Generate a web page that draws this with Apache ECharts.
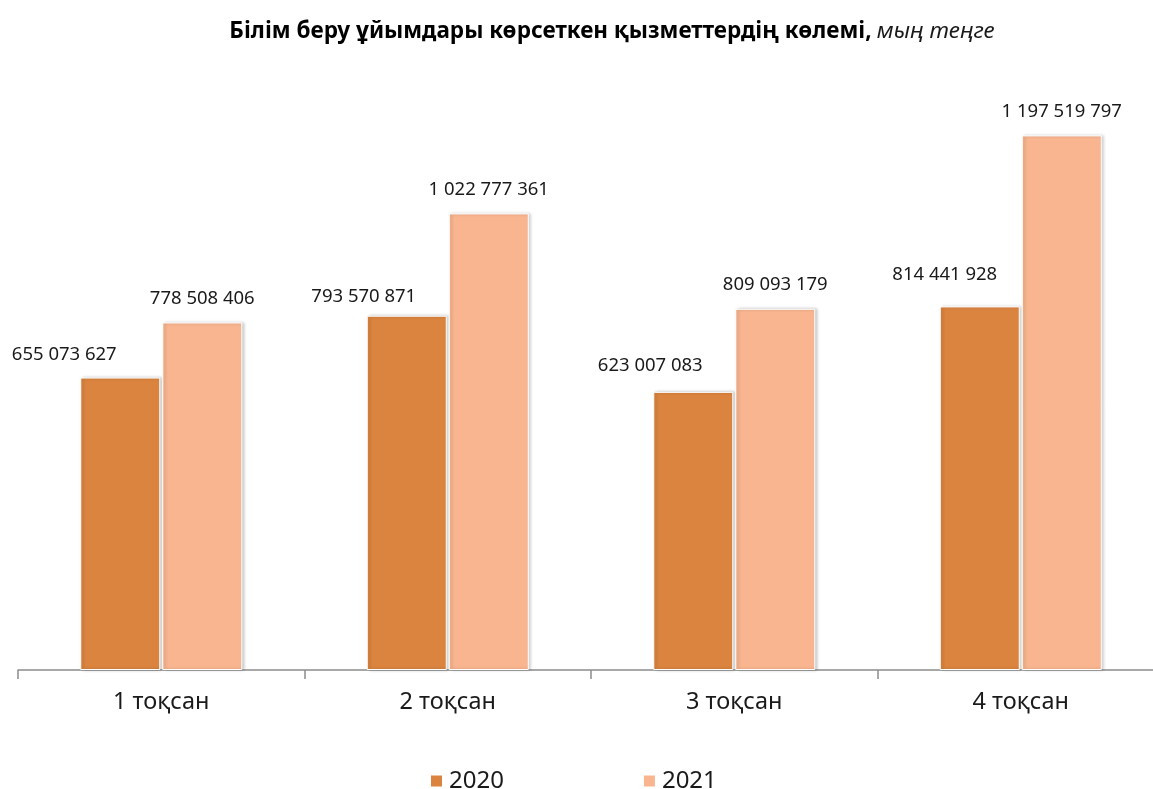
<!DOCTYPE html>
<html>
<head>
<meta charset="utf-8">
<script src="https://cdn.jsdelivr.net/npm/echarts@6/dist/echarts.min.js"></script>
<style>
html,body{margin:0;padding:0;background:#fff;overflow:hidden;width:1153px;height:789px;}
#chart{width:1164px;height:789px;}
</style>
</head>
<body>
<div id="chart"></div>
<script>
const categories = ['1 тоқсан', '2 тоқсан', '3 тоқсан', '4 тоқсан'];
const seriesNames = ['2020', '2021'];
const values2020 = [655073627, 793570871, 623007083, 814441928];
const values2021 = [778508406, 1022777361, 809093179, 1197519797];

// label nudges for the 2020 series (layout only)
const shift2020 = [[-56, 1], [-43, 5], [-43, -2], [-35, -8]];

function fmt(v) {
  return String(v).replace(/\B(?=(\d{3})+(?!\d))/g, ' ');
}

const FONT = '"Noto Sans", sans-serif';
const chart = echarts.init(document.getElementById('chart'), null, {renderer: 'canvas'});

const barStyle = (color) => ({
  color: color,
  borderColor: '#ffffff',
  borderWidth: 1,
  shadowColor: 'rgba(0,0,0,0.22)',
  shadowBlur: 3,
  shadowOffsetX: 2,
  shadowOffsetY: 0
});

const labelBase = {
  show: true,
  position: 'top',
  distance: 14,
  fontFamily: FONT,
  fontSize: 18.5,
  lineHeight: 20,
  color: '#1a1a1a',
  formatter: (p) => fmt(p.value)
};

chart.setOption({
  animation: false,
  backgroundColor: '#ffffff',
  title: {
    text: '{b|Білім беру ұйымдары көрсеткен қызметтердің көлемі,} {i|мың теңге}',
    left: 607,
    textAlign: 'center',
    top: 15,
    textStyle: {
      rich: {
        b: {fontFamily: FONT, fontWeight: 'bold', fontSize: 22.5, color: '#000'},
        i: {fontFamily: FONT, fontWeight: 'normal', fontStyle: 'italic', fontSize: 22.5, color: '#1a1a1a'}
      }
    }
  },
  legend: {
    left: 429,
    top: 769,
    padding: 0,
    itemWidth: 13,
    itemHeight: 13,
    itemGap: 138,
    icon: 'rect',
    textStyle: {fontFamily: FONT, fontSize: 24, color: '#1a1a1a', padding: [0, 0, 0, 1]},
    data: seriesNames
  },
  grid: {left: 18, right: 0, top: 45, bottom: 119, containLabel: false},
  xAxis: {
    type: 'category',
    data: categories,
    axisLine: {lineStyle: {color: '#8c8c8c', width: 1.5}},
    axisTick: {show: true, length: 9, lineStyle: {color: '#8c8c8c', width: 1.5}},
    axisLabel: {fontFamily: FONT, fontSize: 23.5, color: '#1a1a1a', margin: 20}
  },
  yAxis: {
    type: 'value',
    min: 0,
    max: 1400000000,
    interval: 200000000,
    show: false,
    splitLine: {show: false}
  },
  series: [
    {
      name: seriesNames[0],
      type: 'bar',
      barWidth: 80,
      barGap: '2.5%',
      itemStyle: barStyle('#DA843F'),
      label: labelBase,
      data: values2020.map((v, i) => ({value: v, label: {offset: shift2020[i]}}))
    },
    {
      name: seriesNames[1],
      type: 'bar',
      barWidth: 80,
      itemStyle: barStyle('#F8B58F'),
      label: labelBase,
      data: values2021
    }
  ]
});
</script>
</body>
</html>
